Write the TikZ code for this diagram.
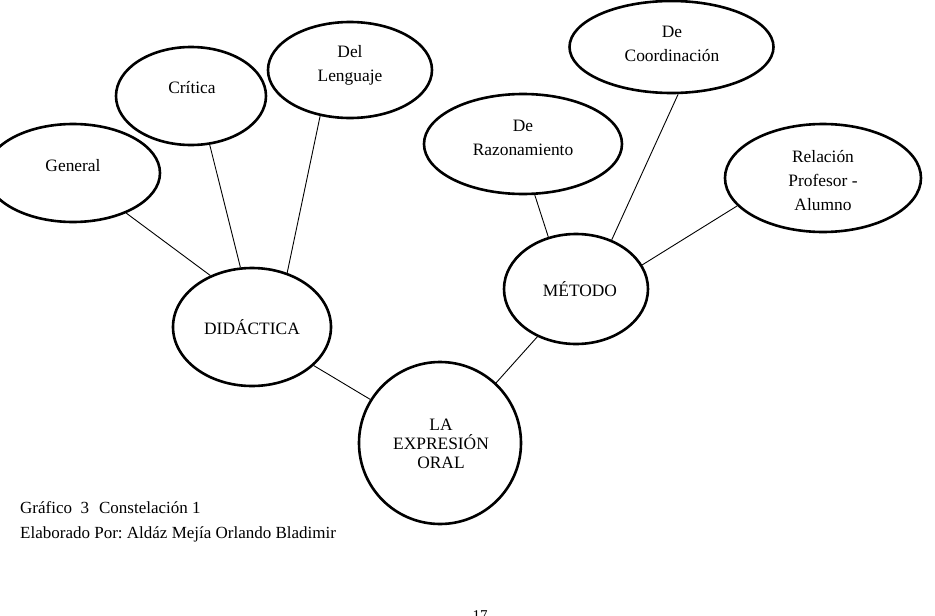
\documentclass[tikz,border=0pt]{standalone}
\usepackage{fontspec}
\setmainfont{Liberation Serif}
\newfontfamily\serf{Liberation Serif}
\usetikzlibrary{shapes.geometric}
\frenchspacing
\begin{document}
\begin{tikzpicture}[x=1pt,y=-1pt,
  bub/.style={draw, ellipse, line width=2.6pt, inner sep=0pt},
  lbl/.style={align=center, font=\serf\fontsize{17.4}{24}\selectfont, inner sep=0pt},
  captext/.style={anchor=base west, inner sep=0pt, font=\serf\fontsize{17}{20}\selectfont},
  link/.style={line width=0.9pt}]
\useasboundingbox (0,0) rectangle (935,616);
% ellipses
\node[bub, minimum width=174, minimum height=98] (gen) at (73,173) {};
\node[bub, minimum width=150, minimum height=98] (cri) at (191,96) {};
\node[bub, minimum width=164, minimum height=96] (len) at (350,70) {};
\node[bub, minimum width=204, minimum height=92] (coo) at (671.5,47) {};
\node[bub, minimum width=198, minimum height=100] (raz) at (523,144) {};
\node[bub, minimum width=196, minimum height=108] (rel) at (823,178) {};
\node[bub, minimum width=144, minimum height=110] (met) at (576,289) {};
\node[bub, minimum width=158, minimum height=118] (did) at (252,327) {};
\node[bub, minimum width=162, minimum height=162] (exp) at (440,443) {};
% labels
\node[lbl] (tgen) at (73,166) {General};
\node[lbl] (tcri) at (192,88) {Crítica};
\node[lbl] (tlen) at (350,65) {Del\\Lenguaje};
\node[lbl] (tcoo) at (672,43.5) {De\\Coordinación};
\node[lbl] (traz) at (523,137.5) {De\\Razonamiento};
\node[lbl] (trel) at (823,181) {Relación\\Profesor -\\Alumno};
\node[lbl] (tmet) at (580,289) {MÉTODO};
\node[lbl] (tdid) at (252,327) {DIDÁCTICA};
\node[lbl, font=\serf\fontsize{17.4}{19}\selectfont] (texp) at (441,444) {LA\\EXPRESIÓN\\ORAL};
% connectors
\draw[link] (gen.-37) -- (did.129);
\draw[link] (cri.-69) -- (did.101);
\draw[link] (len.237) -- (did.57);
\draw[link] (raz.-77) -- (met.118);
\draw[link] (coo.-82) -- (met.54);
\draw[link] (rel.198) -- (met.20);
\draw[link] (did.-32) -- (exp.148);
\draw[link] (met.231) -- (exp.47);
% caption
\node[captext] (c1) at (20,513) {Gráfico~~3\hspace{10pt}Constelación 1};
\node[captext] (c2) at (20,538) {Elaborado Por: Aldáz Mejía Orlando Bladimir};
\node[anchor=north, inner sep=0pt, font=\serf\fontsize{15}{18}\selectfont] (pg) at (480,610) {17};
\end{tikzpicture}
\end{document}
